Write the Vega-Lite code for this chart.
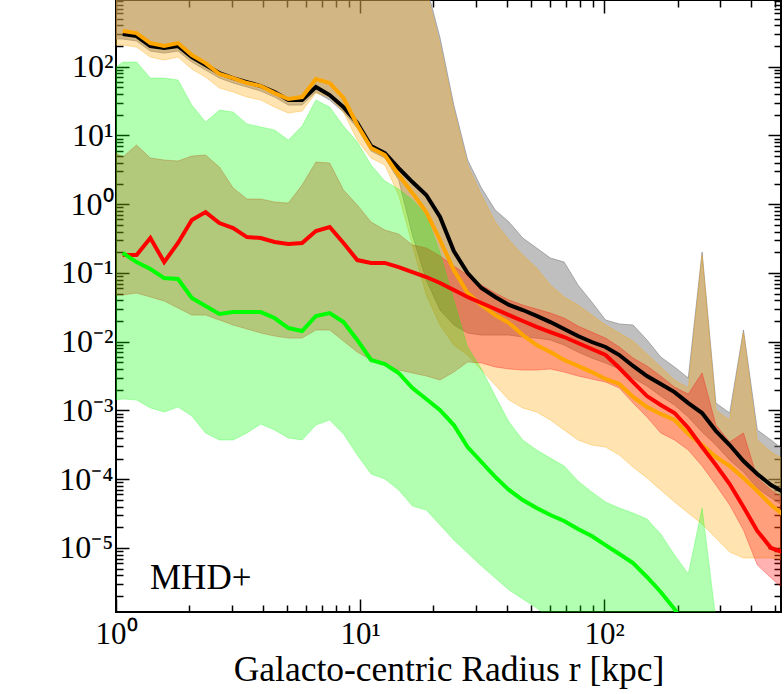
{
  "$schema": "https://vega.github.io/schema/vega-lite/v6.json",
  "width": 665,
  "height": 612,
  "autosize": {"type": "none"},
  "padding": {"left": 116, "top": 0, "right": 3, "bottom": 82},
  "background": "white",
  "config": {
    "view": {"stroke": "black", "strokeWidth": 2},
    "font": "Liberation Serif"
  },
  "data": {
    "values": [
      {"r": 1.0, "black_lo": 253, "black_hi": 3000, "orange_lo": 207, "orange_hi": 3000, "red_lo": 0.0478, "red_hi": 5.56, "green_lo": 0.00142, "green_hi": 98.9},
      {"r": 1.066, "black": 299, "black_lo": 253, "black_hi": 3000, "orange": 330, "orange_lo": 207, "orange_hi": 3000, "red": 0.182, "red_lo": 0.0478, "red_hi": 4.85, "green": 0.195, "green_lo": 0.00147, "green_hi": 117},
      {"r": 1.214, "black": 279, "black_lo": 237, "black_hi": 3000, "orange": 309, "orange_lo": 193, "orange_hi": 3000, "red": 0.182, "red_lo": 0.0511, "red_hi": 7.26, "green": 0.144, "green_lo": 0.00142, "green_hi": 117},
      {"r": 1.383, "black": 200, "black_lo": 169, "black_hi": 3000, "orange": 221, "orange_lo": 138, "orange_hi": 3000, "red": 0.322, "red_lo": 0.0447, "red_hi": 4.70, "green": 0.114, "green_lo": 0.00109, "green_hi": 68.4},
      {"r": 1.576, "black": 187, "black_lo": 158, "black_hi": 3000, "orange": 200, "orange_lo": 125, "orange_hi": 3000, "red": 0.144, "red_lo": 0.0391, "red_hi": 4.40, "green": 0.0843, "green_lo": 0.000949, "green_hi": 68.4},
      {"r": 1.795, "black": 200, "black_lo": 169, "black_hi": 3000, "orange": 221, "orange_lo": 138, "orange_hi": 3000, "red": 0.273, "red_lo": 0.0309, "red_hi": 4.25, "green": 0.0817, "green_lo": 0.00112, "green_hi": 64.0},
      {"r": 2.045, "black": 138, "black_lo": 117, "black_hi": 3000, "orange": 148, "orange_lo": 92.5, "orange_hi": 3000, "red": 0.589, "red_lo": 0.0244, "red_hi": 5.02, "green": 0.0432, "green_lo": 0.00083, "green_hi": 27.7},
      {"r": 2.328, "black": 106, "black_lo": 89.5, "black_hi": 3000, "orange": 113, "orange_lo": 70.8, "orange_hi": 3000, "red": 0.769, "red_lo": 0.0244, "red_hi": 5.20, "green": 0.033, "green_lo": 0.00047, "green_hi": 15.7},
      {"r": 2.652, "black": 80.9, "black_lo": 68.4, "black_hi": 3000, "orange": 78.3, "orange_lo": 49.0, "orange_hi": 3000, "red": 0.532, "red_lo": 0.0207, "red_hi": 3.48, "green": 0.0253, "green_lo": 0.000372, "green_hi": 23.4},
      {"r": 3.021, "black": 68.4, "black_lo": 57.9, "black_hi": 3000, "orange": 68.4, "orange_lo": 42.9, "orange_hi": 3000, "red": 0.451, "red_lo": 0.0175, "red_hi": 1.72, "green": 0.027, "green_lo": 0.000372, "green_hi": 21.9},
      {"r": 3.441, "black": 59.8, "black_lo": 50.7, "black_hi": 3000, "orange": 57.9, "orange_lo": 36.2, "orange_hi": 3000, "red": 0.333, "red_lo": 0.0153, "red_hi": 1.19, "green": 0.027, "green_lo": 0.00047, "green_hi": 14.7},
      {"r": 3.919, "black": 52.4, "black_lo": 44.3, "black_hi": 3000, "orange": 52.4, "orange_lo": 32.8, "orange_hi": 3000, "red": 0.322, "red_lo": 0.0134, "red_hi": 1.19, "green": 0.027, "green_lo": 0.000635, "green_hi": 13.3},
      {"r": 4.463, "black": 42.9, "black_lo": 36.2, "black_hi": 3000, "orange": 41.4, "orange_lo": 25.9, "orange_hi": 3000, "red": 0.282, "red_lo": 0.0121, "red_hi": 1.08, "green": 0.0221, "green_lo": 0.00052, "green_hi": 12.0},
      {"r": 5.084, "black": 32.8, "black_lo": 27.7, "black_hi": 3000, "orange": 33.9, "orange_lo": 21.2, "orange_hi": 3000, "red": 0.264, "red_lo": 0.0113, "red_hi": 1.04, "green": 0.0158, "green_lo": 0.000397, "green_hi": 8.59},
      {"r": 5.789, "black": 32.8, "black_lo": 27.7, "black_hi": 3000, "orange": 36.2, "orange_lo": 22.7, "orange_hi": 3000, "red": 0.273, "red_lo": 0.0113, "red_hi": 1.90, "green": 0.0143, "green_lo": 0.000372, "green_hi": 13.7},
      {"r": 6.595, "black": 50.7, "black_lo": 42.9, "black_hi": 3000, "orange": 66.2, "orange_lo": 41.4, "orange_hi": 3000, "red": 0.407, "red_lo": 0.0148, "red_hi": 4.11, "green": 0.0237, "green_lo": 0.000614, "green_hi": 32.8},
      {"r": 7.511, "black": 38.7, "black_lo": 32.8, "black_hi": 3000, "orange": 57.9, "orange_lo": 36.2, "orange_hi": 3000, "red": 0.466, "red_lo": 0.0148, "red_hi": 3.97, "green": 0.0261, "green_lo": 0.000726, "green_hi": 25.9},
      {"r": 8.555, "black": 25.9, "black_lo": 21.9, "black_hi": 3000, "orange": 35.1, "orange_lo": 21.9, "orange_hi": 3000, "red": 0.273, "red_lo": 0.0102, "red_hi": 1.61, "green": 0.0193, "green_lo": 0.000454, "green_hi": 13.7},
      {"r": 9.743, "black": 15.2, "black_lo": 12.8, "black_hi": 3000, "orange": 14.2, "orange_lo": 8.59, "orange_hi": 3000, "red": 0.154, "red_lo": 0.00708, "red_hi": 0.973, "green": 0.0106, "green_lo": 0.000225, "green_hi": 8.04},
      {"r": 11.10, "black": 7.01, "black_lo": 5.94, "black_hi": 3000, "orange": 6.56, "orange_lo": 4.70, "orange_hi": 3000, "red": 0.140, "red_lo": 0.00542, "red_hi": 0.551, "green": 0.00542, "green_lo": 0.000119, "green_hi": 3.72},
      {"r": 12.64, "black": 5.56, "black_lo": 4.70, "black_hi": 3000, "orange": 5.20, "orange_lo": 3.72, "orange_hi": 3000, "red": 0.140, "red_lo": 0.00458, "red_hi": 0.422, "green": 0.00474, "green_lo": 0.000101, "green_hi": 2.17},
      {"r": 14.40, "black": 3.36, "black_lo": 2.25, "black_hi": 3000, "orange": 2.66, "orange_lo": 1.36, "orange_hi": 3000, "red": 0.122, "red_lo": 0.00387, "red_hi": 0.368, "green": 0.00351, "green_lo": 6.97e-5, "green_hi": 1.66},
      {"r": 16.40, "black": 2.10, "black_lo": 0.356, "black_hi": 3000, "orange": 1.46, "orange_lo": 0.255, "orange_hi": 3000, "red": 0.103, "red_lo": 0.00351, "red_hi": 0.255, "green": 0.00212, "green_lo": 4.07e-5, "green_hi": 1.15},
      {"r": 18.68, "black": 1.36, "black_lo": 0.0789, "black_hi": 1540, "orange": 0.769, "orange_lo": 0.0478, "orange_hi": 1300, "red": 0.0873, "red_lo": 0.00317, "red_hi": 0.231, "green": 0.00147, "green_lo": 3.56e-5, "green_hi": 0.697},
      {"r": 21.28, "black": 0.652, "black_lo": 0.0289, "black_hi": 261, "orange": 0.301, "orange_lo": 0.0175, "orange_hi": 207, "red": 0.0714, "red_lo": 0.00277, "red_hi": 0.176, "green": 0.00101, "green_lo": 2.16e-5, "green_hi": 0.195},
      {"r": 24.23, "black": 0.208, "black_lo": 0.0175, "black_hi": 27.7, "orange": 0.110, "orange_lo": 0.00895, "orange_hi": 23.4, "red": 0.0565, "red_lo": 0.00362, "red_hi": 0.126, "green": 0.000614, "green_lo": 1.31e-5, "green_hi": 0.0404},
      {"r": 27.60, "black": 0.0998, "black_lo": 0.0134, "black_hi": 4.40, "orange": 0.0511, "orange_lo": 0.0064, "orange_hi": 3.72, "red": 0.0447, "red_lo": 0.00507, "red_hi": 0.0933, "green": 0.000294, "green_lo": 8.45e-6, "green_hi": 0.00838},
      {"r": 31.44, "black": 0.0604, "black_lo": 0.0125, "black_hi": 1.72, "orange": 0.0342, "orange_lo": 0.00387, "orange_hi": 1.36, "red": 0.0366, "red_lo": 0.0049, "red_hi": 0.0668, "green": 0.000178, "green_lo": 5.47e-6, "green_hi": 0.00401},
      {"r": 35.81, "black": 0.0447, "black_lo": 0.0125, "black_hi": 0.822, "orange": 0.0244, "orange_lo": 0.00234, "orange_hi": 0.551, "red": 0.0299, "red_lo": 0.00429, "red_hi": 0.0511, "green": 0.000108, "green_lo": 3.66e-6, "green_hi": 0.00162},
      {"r": 40.78, "black": 0.0342, "black_lo": 0.0125, "black_hi": 0.551, "orange": 0.0187, "orange_lo": 0.00142, "orange_hi": 0.301, "red": 0.0244, "red_lo": 0.00401, "red_hi": 0.0404, "green": 6.97e-5, "green_lo": 2.44e-6, "green_hi": 0.000679},
      {"r": 46.45, "black": 0.0289, "black_lo": 0.0117, "black_hi": 0.322, "orange": 0.0125, "orange_lo": 0.00109, "orange_hi": 0.182, "red": 0.0200, "red_lo": 0.00387, "red_hi": 0.0342, "green": 4.98e-5, "green_lo": 1.81e-6, "green_hi": 0.000372},
      {"r": 52.91, "black": 0.0237, "black_lo": 0.0113, "black_hi": 0.231, "orange": 0.00895, "orange_lo": 0.000949, "orange_hi": 0.118, "red": 0.0164, "red_lo": 0.00387, "red_hi": 0.0299, "green": 3.81e-5, "green_lo": 1.34e-6, "green_hi": 0.000266},
      {"r": 60.26, "black": 0.0193, "black_lo": 0.0106, "black_hi": 0.165, "orange": 0.00708, "orange_lo": 0.000726, "orange_hi": 0.0668, "red": 0.0138, "red_lo": 0.00401, "red_hi": 0.0261, "green": 3.01e-5, "green_lo": 9.57e-7, "green_hi": 0.000203},
      {"r": 68.63, "black": 0.0153, "black_lo": 0.00895, "black_hi": 0.144, "orange": 0.00542, "orange_lo": 0.00052, "orange_hi": 0.0447, "red": 0.0117, "red_lo": 0.00362, "red_hi": 0.0221, "green": 2.47e-5, "green_lo": 6.85e-7, "green_hi": 0.000156},
      {"r": 78.18, "black": 0.0121, "black_lo": 0.00708, "black_hi": 0.0668, "orange": 0.00444, "orange_lo": 0.000372, "orange_hi": 0.0342, "red": 0.00957, "red_lo": 0.00317, "red_hi": 0.0169, "green": 1.89e-5, "green_lo": 3e-7, "green_hi": 9.42e-5},
      {"r": 89.05, "black": 0.0099, "black_lo": 0.00579, "black_hi": 0.0378, "orange": 0.00362, "orange_lo": 0.000314, "orange_hi": 0.0244, "red": 0.00783, "red_lo": 0.00286, "red_hi": 0.0138, "green": 1.49e-5, "green_lo": 3e-7, "green_hi": 6.52e-5},
      {"r": 101.4, "black": 0.00838, "black_lo": 0.0049, "black_hi": 0.0207, "orange": 0.00287, "orange_lo": 0.000294, "orange_hi": 0.0175, "red": 0.0064, "red_lo": 0.00259, "red_hi": 0.0113, "green": 1.10e-5, "green_lo": 3e-7, "green_hi": 4.66e-5},
      {"r": 115.5, "black": 0.0064, "black_lo": 0.00401, "black_hi": 0.0181, "orange": 0.00243, "orange_lo": 0.000225, "orange_hi": 0.0134, "red": 0.00414, "red_lo": 0.00212, "red_hi": 0.00838, "green": 8.17e-6, "green_lo": 3e-7, "green_hi": 3.81e-5},
      {"r": 131.5, "black": 0.00444, "black_lo": 0.00296, "black_hi": 0.0175, "orange": 0.00157, "orange_lo": 0.00015, "orange_hi": 0.0102, "red": 0.00259, "red_lo": 0.00128, "red_hi": 0.00579, "green": 6.04e-6, "green_lo": 3e-7, "green_hi": 3.22e-5},
      {"r": 149.9, "black": 0.00317, "black_lo": 0.00227, "black_hi": 0.0106, "orange": 0.00112, "orange_lo": 0.000104, "orange_hi": 0.00662, "red": 0.00162, "red_lo": 0.000803, "red_hi": 0.00444, "green": 3.78e-6, "green_lo": 3e-7, "green_hi": 2.64e-5},
      {"r": 170.7, "black": 0.00243, "black_lo": 0.00162, "black_hi": 0.00599, "orange": 0.000887, "orange_lo": 6.97e-5, "orange_hi": 0.00429, "red": 0.0012, "red_lo": 0.00047, "red_hi": 0.00317, "green": 2.29e-6, "green_lo": 3e-7, "green_hi": 1.6e-5},
      {"r": 194.4, "black": 0.00185, "black_lo": 0.0012, "black_hi": 0.00429, "orange": 0.000726, "orange_lo": 4.66e-5, "orange_hi": 0.00277, "red": 0.000918, "red_lo": 0.000372, "red_hi": 0.00219, "green": 1.29e-6, "green_lo": 3e-7, "green_hi": 7.91e-6},
      {"r": 221.4, "black": 0.00128, "black_lo": 0.000803, "black_hi": 0.00296, "orange": 0.000454, "orange_lo": 3.22e-5, "orange_hi": 0.00212, "red": 0.000556, "red_lo": 0.000266, "red_hi": 0.00173, "green": 6.4e-7, "green_lo": 3e-7, "green_hi": 4.18e-6},
      {"r": 252.2, "black": 0.000918, "black_lo": 0.000486, "black_hi": 0.202, "orange": 0.000314, "orange_lo": 2.23e-5, "orange_hi": 0.182, "red": 0.000294, "red_lo": 0.000156, "red_hi": 0.00351, "green_lo": 3e-7, "green_hi": 3.81e-5},
      {"r": 287.3, "black": 0.000502, "black_lo": 0.000314, "black_hi": 0.00128, "orange": 0.00021, "orange_lo": 1.40e-5, "orange_hi": 0.00101, "red": 0.000161, "red_lo": 8.24e-5, "red_hi": 0.000614, "green_lo": 3e-7, "green_hi": 8.95e-7},
      {"r": 327.2, "black": 0.000314, "black_lo": 0.00019, "black_hi": 0.000918, "orange": 0.000156, "orange_lo": 8.73e-6, "orange_hi": 0.000726, "red": 8.51e-5, "red_lo": 4.22e-5, "red_hi": 0.000348},
      {"r": 372.7, "black": 0.000184, "black_lo": 0.000127, "black_hi": 0.0148, "orange": 0.000104, "orange_lo": 7.14e-6, "orange_hi": 0.0134, "red": 3.94e-5, "red_lo": 1.82e-5, "red_hi": 0.00047},
      {"r": 424.5, "black": 0.000119, "black_lo": 7.45e-5, "black_hi": 0.00052, "orange": 6.73e-5, "orange_lo": 7.14e-6, "orange_hi": 0.000372, "red": 1.77e-5, "red_lo": 5.65e-6, "red_hi": 0.000104},
      {"r": 483.4, "black": 8.24e-5, "black_lo": 5.33e-5, "black_hi": 0.000372, "orange": 4.22e-5, "orange_lo": 7.14e-6, "orange_hi": 0.000249, "red": 1.0e-5, "red_lo": 3.66e-6, "red_hi": 6.97e-5},
      {"r": 550.7, "black": 6.3e-5, "black_lo": 3.94e-5, "black_hi": 0.000257, "orange": 2.92e-5, "orange_lo": 6.68e-6, "orange_hi": 0.00019, "red": 8.45e-6, "red_lo": 2.44e-6, "red_hi": 4.98e-5}
    ]
  },
  "layer": [
    {
      "transform": [{"filter": "isValid(datum.black_lo) && isValid(datum.black_hi)"}],
      "mark": {"type": "area", "clip": true, "color": "#808080", "fillOpacity": 0.5, "stroke": "#808080", "strokeOpacity": 0.6, "strokeWidth": 1},
      "encoding": {
        "x": {
          "field": "r", "type": "quantitative",
          "scale": {"type": "log", "domain": [1, 531], "nice": false},
          "axis": {
            "orient": "bottom",
            "title": "Galacto-centric Radius r [kpc]",
            "values": [1, 2, 3, 4, 5, 6, 7, 8, 9, 10, 20, 30, 40, 50, 60, 70, 80, 90, 100, 200, 300, 400, 500],
            "labelExpr": "abs(log(datum.value)/LN10 - round(log(datum.value)/LN10)) < 0.001 ? '10' + ['⁰','¹','²','³'][round(log(datum.value)/LN10)] : ''",
            "labelFont": "Liberation Serif", "labelFontSize": 31, "labelColor": "black",
            "labelPadding": 20, "labelOverlap": false, "labelFlush": false,
            "tickColor": "black", "tickWidth": 1.5,
            "tickSize": {"condition": {"test": "abs(log(datum.value)/LN10 - round(log(datum.value)/LN10)) < 0.001", "value": -13}, "value": -7},
            "domain": false, "grid": false,
            "titleFont": "Liberation Serif", "titleFontSize": 35.5, "titleFontWeight": "normal", "titleColor": "black",
            "titleY": 68, "titleBaseline": "alphabetic"
          }
        },
        "y": {
          "field": "black_lo", "type": "quantitative",
          "scale": {"type": "log", "domain": [1.17e-6, 935], "nice": false},
          "axis": {
            "orient": "left",
            "title": null,
            "values": [2e-6, 3e-6, 4e-6, 5e-6, 6e-6, 7e-6, 8e-6, 9e-6, 1e-5, 2e-5, 3e-5, 4e-5, 5e-5, 6e-5, 7e-5, 8e-5, 9e-5, 1e-4, 2e-4, 3e-4, 4e-4, 5e-4, 6e-4, 7e-4, 8e-4, 9e-4, 0.001, 0.002, 0.003, 0.004, 0.005, 0.006, 0.007, 0.008, 0.009, 0.01, 0.02, 0.03, 0.04, 0.05, 0.06, 0.07, 0.08, 0.09, 0.1, 0.2, 0.3, 0.4, 0.5, 0.6, 0.7, 0.8, 0.9, 1, 2, 3, 4, 5, 6, 7, 8, 9, 10, 20, 30, 40, 50, 60, 70, 80, 90, 100, 200, 300, 400, 500, 600, 700, 800, 900],
            "labelExpr": "abs(log(datum.value)/LN10 - round(log(datum.value)/LN10)) < 0.001 ? '10' + (round(log(datum.value)/LN10) < 0 ? '⁻' : '') + ['⁰','¹','²','³','⁴','⁵','⁶'][abs(round(log(datum.value)/LN10))] : ''",
            "labelFont": "Liberation Serif", "labelFontSize": 32, "labelColor": "black",
            "labelPadding": 16, "labelOverlap": false, "labelFlush": false,
            "tickColor": "black", "tickWidth": 1.5,
            "tickSize": {"condition": {"test": "abs(log(datum.value)/LN10 - round(log(datum.value)/LN10)) < 0.001", "value": -13}, "value": -7},
            "domain": false, "grid": false
          }
        },
        "y2": {"field": "black_hi"}
      }
    },
    {
      "transform": [{"filter": "isValid(datum.orange_lo) && isValid(datum.orange_hi)"}],
      "mark": {"type": "area", "clip": true, "color": "#ffa500", "fillOpacity": 0.3, "stroke": "#ffa500", "strokeOpacity": 0.35, "strokeWidth": 1},
      "encoding": {
        "x": {"field": "r", "type": "quantitative", "axis": null},
        "y": {"field": "orange_lo", "type": "quantitative", "axis": null},
        "y2": {"field": "orange_hi"}
      }
    },
    {
      "transform": [{"filter": "isValid(datum.red_lo) && isValid(datum.red_hi)"}],
      "mark": {"type": "area", "clip": true, "color": "#ff0000", "fillOpacity": 0.3, "stroke": "#ff0000", "strokeOpacity": 0.3, "strokeWidth": 1},
      "encoding": {
        "x": {"field": "r", "type": "quantitative", "axis": null},
        "y": {"field": "red_lo", "type": "quantitative", "axis": null},
        "y2": {"field": "red_hi"}
      }
    },
    {
      "transform": [{"filter": "isValid(datum.green_lo) && isValid(datum.green_hi)"}],
      "mark": {"type": "area", "clip": true, "color": "#00ff00", "fillOpacity": 0.3, "stroke": "#00ff00", "strokeOpacity": 0.25, "strokeWidth": 1},
      "encoding": {
        "x": {"field": "r", "type": "quantitative", "axis": null},
        "y": {"field": "green_lo", "type": "quantitative", "axis": null},
        "y2": {"field": "green_hi"}
      }
    },
    {
      "transform": [{"filter": "isValid(datum.black)"}],
      "mark": {"type": "line", "clip": true, "color": "black", "strokeWidth": 4},
      "encoding": {
        "x": {"field": "r", "type": "quantitative", "axis": null},
        "y": {"field": "black", "type": "quantitative", "axis": null}
      }
    },
    {
      "transform": [{"filter": "isValid(datum.orange)"}],
      "mark": {"type": "line", "clip": true, "color": "#ffa500", "strokeWidth": 4},
      "encoding": {
        "x": {"field": "r", "type": "quantitative", "axis": null},
        "y": {"field": "orange", "type": "quantitative", "axis": null}
      }
    },
    {
      "transform": [{"filter": "isValid(datum.red)"}],
      "mark": {"type": "line", "clip": true, "color": "#ff0000", "strokeWidth": 4},
      "encoding": {
        "x": {"field": "r", "type": "quantitative", "axis": null},
        "y": {"field": "red", "type": "quantitative", "axis": null}
      }
    },
    {
      "transform": [{"filter": "isValid(datum.green)"}],
      "mark": {"type": "line", "clip": true, "color": "#00ff00", "strokeWidth": 4},
      "encoding": {
        "x": {"field": "r", "type": "quantitative", "axis": null},
        "y": {"field": "green", "type": "quantitative", "axis": null}
      }
    },
    {
      "data": {"values": [{"r": 1.378, "v": 3.66e-6, "label": "MHD+"}]},
      "mark": {"type": "text", "align": "left", "baseline": "middle", "font": "Liberation Serif", "fontSize": 35, "color": "black"},
      "encoding": {
        "x": {
          "field": "r", "type": "quantitative",
          "axis": {
            "orient": "top", "title": null, "labels": false,
            "values": [1, 2, 3, 4, 5, 6, 7, 8, 9, 10, 20, 30, 40, 50, 60, 70, 80, 90, 100, 200, 300, 400, 500],
            "tickColor": "black", "tickWidth": 1.5,
            "tickSize": {"condition": {"test": "abs(log(datum.value)/LN10 - round(log(datum.value)/LN10)) < 0.001", "value": -13}, "value": -7},
            "domain": false, "grid": false
          }
        },
        "y": {
          "field": "v", "type": "quantitative",
          "axis": {
            "orient": "right", "title": null, "labels": false,
            "values": [2e-6, 3e-6, 4e-6, 5e-6, 6e-6, 7e-6, 8e-6, 9e-6, 1e-5, 2e-5, 3e-5, 4e-5, 5e-5, 6e-5, 7e-5, 8e-5, 9e-5, 1e-4, 2e-4, 3e-4, 4e-4, 5e-4, 6e-4, 7e-4, 8e-4, 9e-4, 0.001, 0.002, 0.003, 0.004, 0.005, 0.006, 0.007, 0.008, 0.009, 0.01, 0.02, 0.03, 0.04, 0.05, 0.06, 0.07, 0.08, 0.09, 0.1, 0.2, 0.3, 0.4, 0.5, 0.6, 0.7, 0.8, 0.9, 1, 2, 3, 4, 5, 6, 7, 8, 9, 10, 20, 30, 40, 50, 60, 70, 80, 90, 100, 200, 300, 400, 500, 600, 700, 800, 900],
            "tickColor": "black", "tickWidth": 1.5,
            "tickSize": {"condition": {"test": "abs(log(datum.value)/LN10 - round(log(datum.value)/LN10)) < 0.001", "value": -13}, "value": -7},
            "domain": false, "grid": false
          }
        },
        "text": {"field": "label"}
      }
    }
  ],
  "resolve": {"axis": {"x": "independent", "y": "independent"}}
}
